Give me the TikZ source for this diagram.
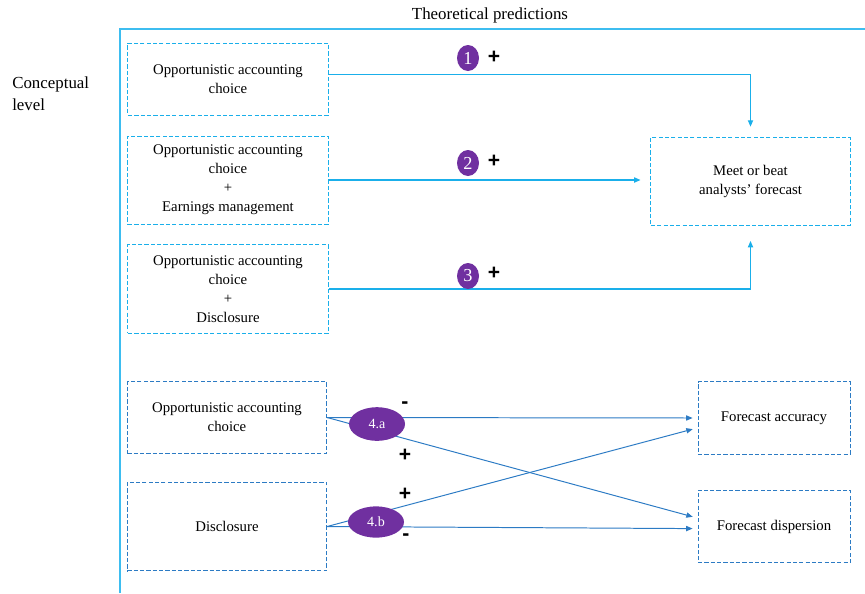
\documentclass[tikz,border=0pt]{standalone}
\usepackage{fontspec}
\setmainfont{Liberation Serif}
\newfontfamily\signfont{Liberation Sans}
\usetikzlibrary{arrows.meta,shapes.geometric}
\definecolor{FrameBlue}{HTML}{3DBDF0}
\definecolor{LightBlue}{HTML}{1AAFEA}
\definecolor{MidBlue}{HTML}{2C7BC4}
\definecolor{BadgePurple}{HTML}{7030A0}
\tikzset{
  conceptnode/.style={draw=LightBlue,dash pattern=on 3pt off 1.5pt,line width=0.7pt,align=center,font=\fontsize{10.5}{13.5}\selectfont,inner sep=0pt,minimum width=5cm},
  outcomenode/.style={conceptnode,draw=MidBlue},
  badge/.style={ellipse,fill=BadgePurple,text=white,inner sep=0pt,minimum width=0.55cm,minimum height=0.65cm,font=\fontsize{13}{14}\selectfont},
  hypobadge/.style={ellipse,fill=BadgePurple,text=white,inner sep=0pt,minimum width=1.4cm,minimum height=0.84cm,font=\fontsize{10}{11}\selectfont},
  signlabel/.style={font=\signfont\bfseries\fontsize{15}{15}\selectfont,inner sep=0pt},
  toparrow/.style={-{Triangle[length=1.6mm,width=1.3mm]},line width=0.8pt,draw=LightBlue},
  botarrow/.style={-{Triangle[length=1.6mm,width=1.3mm]},line width=0.7pt,draw=MidBlue,shorten >=3.5pt}
}
\begin{document}
\begin{tikzpicture}[x=0.025cm,y=-0.025cm]
\useasboundingbox (0,0) rectangle (865,593);
% frame and headings
\draw[FrameBlue,line width=1.1pt] (120,593) -- (120,29) -- (865,29);
\node[font=\fontsize{12}{14}\selectfont] (title) at (490,15) {Theoretical predictions};
\node[font=\fontsize{12}{15.6}\selectfont,align=left,anchor=north west,inner sep=0pt] (level) at (12,77) {Conceptual\\level};
% upper block
\node[conceptnode,minimum height=1.8cm] (a1) at (228,79) {Opportunistic accounting\\choice};
\node[conceptnode,minimum height=2.2cm] (a2) at (228,180) {Opportunistic accounting\\choice\\+\\Earnings management};
\node[conceptnode,minimum height=2.22cm] (a3) at (228,289) {Opportunistic accounting\\choice\\+\\Disclosure};
\node[conceptnode,minimum width=4.98cm,minimum height=2.2cm] (meet) at (750.5,181) {Meet or beat\\analysts' forecast};
\draw[toparrow,shorten >=7pt] ([yshift=3.5pt]a1.east) -| (meet.north);
\draw[toparrow,shorten >=7pt] (a2.east) -- (a2.east -| meet.west);
\draw[toparrow,shorten >=11pt] (a3.east) -| (meet.south);
\node[badge] (h1) at (468,58) {1};
\node[signlabel] (s1) at (494,57) {+};
\node[badge] (h2) at (468,163) {2};
\node[signlabel] (s2) at (494,161) {+};
\node[badge] (h3) at (468,276) {3};
\node[signlabel] (s3) at (494,273) {+};
% lower block
\node[outcomenode,minimum width=4.98cm,minimum height=1.78cm] (b1) at (227,417.5) {Opportunistic accounting\\choice};
\node[outcomenode,minimum width=4.98cm,minimum height=2.22cm] (b2) at (227,526.5) {Disclosure};
\node[outcomenode,minimum width=3.8cm,minimum height=1.82cm] (fa) at (774,418) {Forecast accuracy};
\node[outcomenode,minimum width=3.8cm,minimum height=1.82cm] (fd) at (774,526.5) {Forecast dispersion};
\draw[botarrow] (b1.east) -- (fa.west);
\draw[botarrow] (b1.east) -- ([yshift=6pt]fd.west);
\draw[botarrow] (b2.east) -- ([yshift=-7pt]fa.west);
\draw[botarrow] (b2.east) -- ([yshift=-1.5pt]fd.west);
\node[hypobadge] (h4a) at (377,424) {4.a};
\node[hypobadge,minimum height=0.78cm] (h4b) at (376,522) {4.b};
\node[signlabel] (s4a) at (405,405) {-};
\node[signlabel] (s4b) at (405,455) {+};
\node[signlabel] (s4c) at (405,494) {+};
\node[signlabel] (s4d) at (406,537) {-};
\end{tikzpicture}
\end{document}
